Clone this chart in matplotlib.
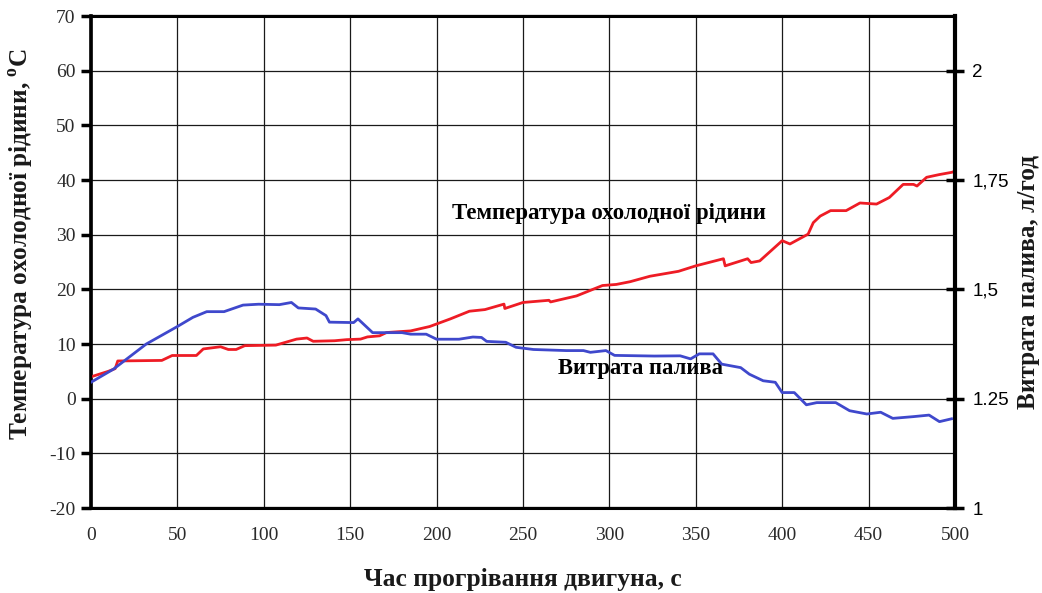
import matplotlib
matplotlib.use("Agg")
import matplotlib.pyplot as plt

plt.rcParams["axes.unicode_minus"] = False

# Temperature of coolant (left axis, °C)
temp_t = [0, 10, 14, 15.5, 41, 47, 61, 65, 75, 79.5, 84, 89, 107, 119, 125, 128.6, 141, 148, 156, 160,
          167, 171, 185, 196, 208, 219, 228, 239, 239.5, 250, 265, 266, 281, 296, 304, 312, 323.5, 340,
          350, 366, 367, 380, 382, 387, 400, 404.5, 415, 418, 422, 428, 437, 445, 454.6, 462, 468, 470,
          476, 478, 483.6, 491, 498, 500]
temp_v = [4.0, 5.0, 5.5, 6.9, 7.0, 7.9, 7.9, 9.1, 9.5, 9.0, 9.0, 9.7, 9.8, 10.9, 11.1, 10.5, 10.6, 10.8, 10.9, 11.3,
          11.5, 12.1, 12.4, 13.2, 14.6, 16.0, 16.3, 17.3, 16.5, 17.6, 18.0, 17.7, 18.8, 20.7, 20.9, 21.4, 22.4, 23.3,
          24.3, 25.6, 24.3, 25.6, 24.9, 25.2, 28.9, 28.3, 30.1, 32.2, 33.4, 34.4, 34.4, 35.8, 35.6, 36.8, 38.6, 39.2,
          39.2, 38.9, 40.5, 41.0, 41.4, 41.6]

# Fuel consumption (right axis, l/h)
fuel_t = [0, 13, 32, 50, 59, 67, 77, 88, 97, 109, 116, 120, 130, 136, 138, 152, 154.5, 163, 180, 185,
          194, 200, 213, 221, 226, 229, 240, 246, 256, 275, 285, 289, 298, 303, 326, 341, 347, 352, 360,
          365, 376, 381, 389, 396, 400, 407, 414, 420, 431, 439, 449, 457, 464, 476, 485, 491, 498]
fuel_v = [1.2875, 1.3175, 1.375, 1.415, 1.436, 1.449, 1.449, 1.464, 1.466, 1.465, 1.470, 1.4575, 1.455, 1.44,
          1.425, 1.424, 1.4325, 1.401, 1.401, 1.3975, 1.3975, 1.386, 1.386, 1.391, 1.39, 1.381, 1.379, 1.3675,
          1.3625, 1.36, 1.36, 1.356, 1.36, 1.349, 1.3475, 1.348, 1.341, 1.3525, 1.3525, 1.329, 1.321, 1.306,
          1.291, 1.2875, 1.264, 1.264, 1.236, 1.241, 1.241, 1.2225, 1.215, 1.219, 1.205, 1.209, 1.2125, 1.1975,
          1.204]

x_ticks = [0, 50, 100, 150, 200, 250, 300, 350, 400, 450, 500]
left_ticks = [-20, -10, 0, 10, 20, 30, 40, 50, 60, 70]
right_ticks = [1, 1.25, 1.5, 1.75, 2]
right_labels = ["1", "1.25", "1,5", "1,75", "2"]

SERIF = "Liberation Serif"
SANS = "Liberation Sans"

fig = plt.figure(figsize=(10.42, 5.93), dpi=100)
ax = fig.add_axes([0.0873, 0.1433, 0.8292, 0.8297])
ax2 = ax.twinx()

ax.set_xlim(0, 500)
ax.set_ylim(-20, 70)
ax2.set_ylim(1, 1 + 90 / 80)

ax.set_xticks(x_ticks)
ax.set_yticks(left_ticks)
ax.grid(True, color="#1a1a1a", linewidth=0.9)
ax.set_axisbelow(True)

ax.plot(temp_t, temp_v, color="#ee1c25", linewidth=2.0, zorder=3)
ax2.plot(fuel_t, fuel_v, color="#3f48cc", linewidth=2.0, zorder=3)

for a in (ax, ax2):
    for s in a.spines.values():
        s.set_linewidth(1.6)
        s.set_color("black")
ax.spines["left"].set_linewidth(2.6)
ax2.spines["right"].set_linewidth(3.0)
ax.spines["bottom"].set_linewidth(2.2)
ax.spines["top"].set_linewidth(2.2)

ax.tick_params(axis="y", direction="out", length=7, width=2.5, pad=4,
               labelsize=14, labelcolor="#2a2a2a")
ax.tick_params(axis="x", length=0, pad=14, labelsize=14, labelcolor="#2a2a2a")
for lbl in ax.get_xticklabels() + ax.get_yticklabels():
    lbl.set_fontfamily(SERIF)

ax2.set_yticks(right_ticks)
ax2.set_yticklabels(right_labels)
ax2.tick_params(axis="y", direction="inout", length=13, width=2.5, pad=6,
                labelsize=13.5, labelcolor="black")
for lbl in ax2.get_yticklabels():
    lbl.set_fontfamily(SANS)

ax.text(300, 33.8, "Температура охолодної рідини", fontfamily=SERIF, fontweight="bold",
        fontsize=16.5, ha="center", va="center", color="black", zorder=5)
ax.text(318, 5.5, "Витрата палива", fontfamily=SERIF, fontweight="bold",
        fontsize=16.3, ha="center", va="center", color="black", zorder=5)

fig.text(0.502, 0.022, "Час прогрівання двигуна, с", fontfamily=SERIF, fontweight="bold",
         fontsize=18.4, ha="center", va="center", color="#1a1a1a")
fig.text(0.021, 0.589, r"Температура охолодної рідини, $^{\mathregular{o}}$C", fontfamily=SERIF,
         fontweight="bold", fontsize=18.2, ha="center", va="center", rotation=90, color="#1a1a1a")
fig.text(0.987, 0.524, "Витрата палива, л/год", fontfamily=SERIF, fontweight="bold",
         fontsize=18.2, ha="center", va="center", rotation=90, color="#1a1a1a")

fig.savefig("out.png", dpi=100, facecolor="white")
